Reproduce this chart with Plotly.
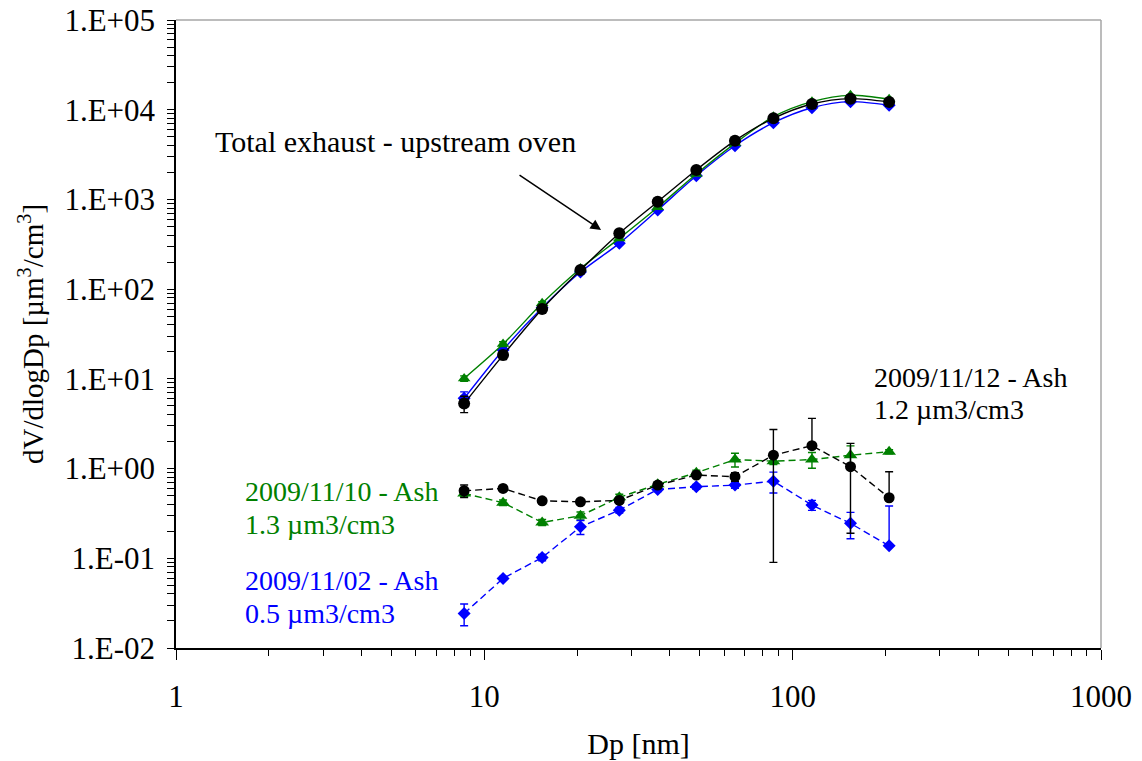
import plotly.graph_objects as go

# Particle diameter bins [nm]
dp = [8.6, 11.5, 15.4, 20.5, 27.4, 36.5, 48.7, 65.0, 86.6, 115.5, 154.0, 205.5]

# Total exhaust, upstream of the oven: dV/dlogDp [um3/cm3]
total_1112 = [5.3, 18.4, 60, 163, 419, 944, 2130, 4520, 8020, 11580, 13280, 12190]
total_1112_err = [1.1, 2.0, 3, 5, 10, 20, 40, 80, 150, 200, 250, 250]
total_1110 = [10.1, 24.4, 69.5, 170, 368, 817, 1920, 4220, 8350, 12300, 14460, 13060]
total_1110_err = [0.7, 1.5, 3, 5, 10, 20, 40, 80, 150, 200, 250, 250]
total_1102 = [6.06, 21.0, 62, 155, 324, 762, 1838, 3970, 7160, 10520, 12300, 11200]
total_1102_err = [1.1, 1.5, 3, 5, 10, 20, 40, 80, 150, 200, 250, 250]

# Ash (downstream of the oven)
ash_1112 = [0.566, 0.601, 0.437, 0.426, 0.442, 0.654, 0.847, 0.811, 1.41, 1.80, 1.05, 0.473]
ash_1112_err = [0.09, 0.04, 0.03, 0.02, 0.03, 0.04, 0.05, 0.09, 1.32, 1.83, 0.86, 0.45]
ash_1112_err_minus = [0.09, 0.04, 0.03, 0.02, 0.03, 0.04, 0.05, 0.09, 1.32, 0.0, 0.86, 0.0]
ash_1110 = [0.529, 0.416, 0.251, 0.298, 0.478, 0.667, 0.898, 1.26, 1.21, 1.26, 1.41, 1.54]
ash_1110_err = [0.04, 0.03, 0.02, 0.03, 0.04, 0.04, 0.06, 0.22, 0.1, 0.25, 0.38, 0.08]
ash_1102 = [0.0243, 0.0597, 0.102, 0.224, 0.344, 0.586, 0.627, 0.654, 0.724, 0.392, 0.245, 0.138]
ash_1102_err = [0.0066, 0.003, 0.008, 0.04, 0.025, 0.03, 0.04, 0.05, 0.19, 0.05, 0.08, 0.244]
ash_1102_err_minus = [0.0066, 0.003, 0.008, 0.04, 0.025, 0.03, 0.04, 0.05, 0.19, 0.05, 0.08, 0.0]

# Axis ticks
x_ticks = [1, 10, 100, 1000]
x_ticktext = ["1", "10", "100", "1000"]
y_ticks = [1e-2, 1e-1, 1e0, 1e1, 1e2, 1e3, 1e4, 1e5]
y_ticktext = ["1.E-02", "1.E-01", "1.E+00", "1.E+01", "1.E+02", "1.E+03", "1.E+04", "1.E+05"]

GREEN = "#008000"
BLUE = "#0000FF"
BLACK = "#000000"
FONT = "Liberation Serif"


def minor_log(lo, hi):
    return [m * 10.0 ** d for d in range(lo, hi) for m in range(2, 10)]


def err(vals, minus=None, color=BLACK):
    e = dict(type="data", array=vals, color=color, thickness=1.4, width=4, visible=True)
    if minus is not None:
        e["symmetric"] = False
        e["arrayminus"] = minus
    return e


fig = go.Figure()

# Totals: smoothed solid lines
for y, e, color, sym, size in [
    (total_1102, total_1102_err, BLUE, "diamond", 10),
    (total_1110, total_1110_err, GREEN, "triangle-up", 11),
    (total_1112, total_1112_err, BLACK, "circle", 12),
]:
    fig.add_trace(go.Scatter(
        x=dp, y=y, mode="lines+markers",
        line=dict(color=color, width=1.4, shape="spline", smoothing=0.8),
        marker=dict(symbol=sym, size=size, color=color),
        error_y=err(e, color=color), showlegend=False,
    ))

# Ash: dashed straight lines
for y, e, em, color, sym, size in [
    (ash_1110, ash_1110_err, None, GREEN, "triangle-up", 12),
    (ash_1102, ash_1102_err, ash_1102_err_minus, BLUE, "diamond", 10),
    (ash_1112, ash_1112_err, ash_1112_err_minus, BLACK, "circle", 11),
]:
    fig.add_trace(go.Scatter(
        x=dp, y=y, mode="lines+markers",
        line=dict(color=color, width=1.4, dash="7px,4px"),
        marker=dict(symbol=sym, size=size, color=color),
        error_y=err(e, em, color=color), showlegend=False,
    ))

tickfont = dict(family=FONT, size=31, color="black")

fig.update_layout(
    width=1142, height=761,
    margin=dict(l=176, r=41, t=20, b=113, autoexpand=False),
    paper_bgcolor="white", plot_bgcolor="white",
    font=dict(family=FONT, color="black"),
    xaxis=dict(
        type="log", range=[0, 3], tickmode="array", tickvals=x_ticks, ticktext=x_ticktext,
        ticks="outside", ticklen=10, tickwidth=1.2, tickcolor="black",
        showline=True, linecolor="black", linewidth=1.5, showgrid=False, zeroline=False,
        tickfont=tickfont, ticklabelstandoff=10, automargin=False,
        minor=dict(tickmode="array", tickvals=minor_log(0, 3), ticks="outside",
                   ticklen=6, tickwidth=1.2, tickcolor="black", showgrid=False),
        title=dict(text="Dp [nm]", font=dict(family=FONT, size=30), standoff=20),
    ),
    xaxis2=dict(
        type="log", range=[0, 3], overlaying="x", anchor="y", side="bottom",
        tickmode="array", tickvals=x_ticks, ticks="inside", ticklen=6, tickwidth=1.2,
        tickcolor="black", showticklabels=False, showgrid=False, showline=False, zeroline=False,
        minor=dict(tickmode="array", tickvals=minor_log(0, 3), ticks="inside",
                   ticklen=6, tickwidth=1.2, tickcolor="black", showgrid=False),
    ),
    yaxis=dict(
        type="log", range=[-2, 5], tickmode="array", tickvals=y_ticks, ticktext=y_ticktext,
        ticks="outside", ticklen=7, tickwidth=1.2, tickcolor="black",
        showline=True, linecolor="black", linewidth=1.5, showgrid=False, zeroline=False,
        tickfont=tickfont, ticklabelstandoff=6, automargin=False,
        minor=dict(tickmode="array", tickvals=minor_log(-2, 5), ticks="outside",
                   ticklen=7, tickwidth=1.2, tickcolor="black", showgrid=False),
        title=dict(text="dV/dlogDp [µm<sup>3</sup>/cm<sup>3</sup>]",
                   font=dict(family=FONT, size=29), standoff=12),
    ),
    yaxis2=dict(
        type="log", range=[-2, 5], overlaying="y", anchor="x", side="left",
        tickmode="array", tickvals=y_ticks, ticks="inside", ticklen=7, tickwidth=1.2,
        tickcolor="black", showticklabels=False, showgrid=False, showline=False, zeroline=False,
        minor=dict(tickmode="array", tickvals=minor_log(-2, 5), ticks="inside",
                   ticklen=7, tickwidth=1.2, tickcolor="black", showgrid=False),
    ),
    shapes=[
        dict(type="line", xref="paper", yref="paper", x0=0, x1=1, y0=1, y1=1,
             line=dict(color="#a6a6a6", width=1.5)),
        dict(type="line", xref="paper", yref="paper", x0=1, x1=1, y0=0, y1=1,
             line=dict(color="#a6a6a6", width=1.5)),
    ],
)

labels = [
    ("Total exhaust - upstream oven", 0.040, 0.807, BLACK, 30),
    ("2009/11/12 - Ash", 0.7524, 0.430, BLACK, 28),
    ("1.2 µm3/cm3", 0.7524, 0.379, BLACK, 28),
    ("2009/11/10 - Ash", 0.0724, 0.250, GREEN, 28),
    ("1.3 µm3/cm3", 0.0724, 0.197, GREEN, 28),
    ("2009/11/02 - Ash", 0.0724, 0.1067, BLUE, 28),
    ("0.5 µm3/cm3", 0.0724, 0.0557, BLUE, 28),
]
for text, x, y, color, size in labels:
    fig.add_annotation(text=text, x=x, y=y, xref="paper", yref="paper",
                       xanchor="left", yanchor="middle", showarrow=False,
                       font=dict(family=FONT, size=size, color=color))

# Arrow pointing at the total exhaust curves
fig.add_annotation(x=0.4595, y=0.6656, xref="paper", yref="paper", text="",
                   showarrow=True, arrowhead=2, arrowsize=1.4, arrowwidth=1.5,
                   arrowcolor="black", ax=-83, ay=-56)

fig.write_html("out.html")
